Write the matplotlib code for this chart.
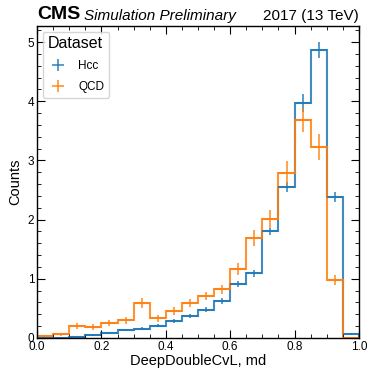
import numpy as np
import matplotlib
matplotlib.use("Agg")
import matplotlib.pyplot as plt
from matplotlib.ticker import MultipleLocator

plt.rcParams["font.family"] = ["Liberation Sans", "DejaVu Sans"]

# Binning of the DeepDoubleCvL score
BIN_EDGES = np.linspace(0.0, 1.0, 21)

# Counts per bin
hcc_counts = [0.00, 0.00, 0.01, 0.05, 0.08, 0.13, 0.16, 0.21, 0.29, 0.37,
              0.48, 0.63, 0.91, 1.09, 1.80, 2.55, 3.97, 4.87, 2.38, 0.07]
hcc_errs = [0.00, 0.00, 0.01, 0.02, 0.02, 0.02, 0.02, 0.03, 0.03, 0.04,
            0.04, 0.05, 0.05, 0.06, 0.06, 0.08, 0.15, 0.14, 0.08, 0.02]
qcd_counts = [0.03, 0.06, 0.21, 0.18, 0.26, 0.30, 0.59, 0.33, 0.46, 0.59,
              0.71, 0.82, 1.17, 1.69, 2.01, 2.79, 3.69, 3.23, 0.98, 0.00]
qcd_errs = [0.02, 0.03, 0.05, 0.05, 0.05, 0.06, 0.08, 0.06, 0.07, 0.07,
            0.07, 0.08, 0.10, 0.13, 0.15, 0.20, 0.20, 0.22, 0.08, 0.00]

SERIES = [("Hcc", hcc_counts, hcc_errs, "#1f77b4"),
          ("QCD", qcd_counts, qcd_errs, "#ff7f0e")]


def draw_hist(ax, counts, errs, color, label):
    counts = np.asarray(counts)
    centers = 0.5 * (BIN_EDGES[1:] + BIN_EDGES[:-1])
    halfw = 0.5 * np.diff(BIN_EDGES)
    ax.stairs(counts, BIN_EDGES, color=color, linewidth=1.5, alpha=0.85)
    ax.errorbar(centers, counts, yerr=errs, xerr=halfw, fmt="none",
                ecolor=color, elinewidth=1.2, alpha=0.85, label=label)


fig = plt.figure(figsize=(3.67, 3.71), dpi=100)
ax = fig.add_axes([0.101, 0.089, 0.877, 0.842])

for name, counts, errs, clr in SERIES:
    draw_hist(ax, counts, errs, clr, name)

ax.set_xlim(0.0, 1.0)
ax.set_ylim(0.0, 5.28)
ax.xaxis.set_major_locator(MultipleLocator(0.2))
ax.xaxis.set_minor_locator(MultipleLocator(0.05))
ax.yaxis.set_major_locator(MultipleLocator(1))
ax.yaxis.set_minor_locator(MultipleLocator(0.2))
ax.tick_params(which="both", direction="in", top=True, right=True, labelsize=8.5, pad=2)
ax.tick_params(which="major", length=6)
ax.tick_params(which="minor", length=3)
for s in ax.spines.values():
    s.set_linewidth(1.0)

ax.set_xlabel("DeepDoubleCvL, md", fontsize=10.5, labelpad=1)
ax.set_ylabel("Counts", fontsize=10.5, labelpad=4)

ax.text(0.0, 1.008, "CMS", transform=ax.transAxes, fontsize=14,
        fontweight="bold", ha="left", va="bottom")
ax.text(0.147, 1.008, "Simulation Preliminary", transform=ax.transAxes,
        fontsize=11, style="italic", ha="left", va="bottom")
ax.text(1.0, 1.008, "2017 (13 TeV)", transform=ax.transAxes, fontsize=11,
        ha="right", va="bottom")

leg = ax.legend(title="Dataset", loc="upper left", fontsize=8.5,
                title_fontsize=11.5, frameon=True, handlelength=1.8,
                borderaxespad=0.5, labelspacing=0.75)
leg._legend_box.align = "left"

fig.savefig("out.png", dpi=100)
